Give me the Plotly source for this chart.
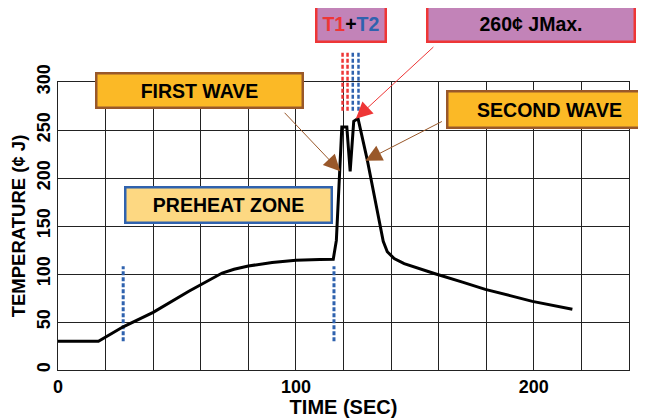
import plotly.graph_objects as go

# --- data ---
time_sec = [0, 17, 27.4, 40, 55, 69, 74, 80, 90, 100, 110, 115.7, 117, 119.3, 121.4, 122.8, 124.3,
            126.1, 129.9, 132.8, 135.6, 136.7, 138.4, 141.3, 145.5, 150, 158.5, 170, 179.6, 190,
            199.4, 216.2]
temp_c = [30, 30, 45, 60, 82, 101, 105, 108.3, 112, 114.3, 115.2, 115.4, 135, 253, 253, 207, 259,
          262, 220, 184, 146.5, 134, 123.2, 116.1, 110.8, 107, 100.3, 91.5, 84, 77.5, 71.5, 63.2]

preheat_marks = [27.4, 116]          # blue dashed markers
preheat_mark_range = [30, 108]
t1_marks = [119.6, 121.7]            # red dashed
t2_marks = [123.9, 126.3]            # blue dashed
t_mark_range = [270, 331]

x_ticks = [0, 100, 200]
y_ticks = [0, 50, 100, 150, 200, 250, 300]

FONT = "Liberation Sans, Arial, sans-serif"
BLUE = "#2F62AE"
RED = "#EE3636"
BROWN = "#99582A"
ORANGE = "#FBB926"
LIGHT = "#FDD882"
PURPLE = "#C283B8"

fig = go.Figure()

for xm in preheat_marks:
    fig.add_trace(go.Scatter(x=[xm, xm], y=preheat_mark_range, mode="lines",
                             line=dict(color=BLUE, width=3, dash="4px,2px"),
                             hoverinfo="skip", showlegend=False))

fig.add_trace(go.Scatter(x=time_sec, y=temp_c, mode="lines",
                         line=dict(color="black", width=3), showlegend=False))

# T1 / T2 markers above the plot
for xs, col in [(t1_marks, RED), (t2_marks, BLUE)]:
    for xm in xs:
        fig.add_shape(type="line", xref="x", yref="paper", x0=xm, x1=xm,
                      y0=t_mark_range[0] / 300, y1=t_mark_range[1] / 300,
                      line=dict(color=col, width=2.5, dash="4px,2px"))

def box(text, x, y, w, h, fill, edge):
    fig.add_annotation(text=text, xref="paper", yref="paper", x=x, y=y,
                       xanchor="center", yanchor="middle", showarrow=False,
                       width=w, height=h, bgcolor=fill, bordercolor=edge,
                       borderwidth=2.5, borderpad=0,
                       font=dict(family=FONT, size=19.5, color="black", weight="bold"))

box("FIRST WAVE", 0.2478, 0.972, 204, 32, ORANGE, BROWN)
box("PREHEAT ZONE", 0.2993, 0.574, 204, 33, LIGHT, BLUE)
box("SECOND WAVE", 0.8615, 0.904, 202, 34, ORANGE, BROWN)
box("<span style='color:#EE3636'>T1</span>+<span style='color:#2F62AE'>T2</span>",
    0.5133, 1.2025, 67, 33, PURPLE, RED)
box("260¢ JMax.", 0.8277, 1.2025, 205, 33, PURPLE, RED)

def arrow(x, y, ax, ay, col):
    fig.add_annotation(x=x, y=y, xref="x", yref="y", ax=ax, ay=ay, text="",
                       showarrow=True, arrowhead=2, arrowsize=3.3, arrowwidth=1,
                       arrowcolor=col, standoff=0)

arrow(118.6, 207, -57, -60, BROWN)
arrow(129.2, 218, 78, -40, BROWN)
arrow(125.2, 261.8, 79, -73, RED)

# page body has an 8px margin, so the figure is 8px smaller on each side
fig.update_layout(
    width=638, height=410,
    margin=dict(l=50, r=17, t=74, b=48, autoexpand=False),
    paper_bgcolor="white", plot_bgcolor="white",
    font=dict(family=FONT, color="black"),
    xaxis=dict(range=[0, 240], tickvals=x_ticks, showgrid=True, gridcolor="#222", gridwidth=1,
               minor=dict(dtick=20, showgrid=True, gridcolor="#222", gridwidth=1),
               zeroline=False, showline=True, mirror=True, linecolor="#222", linewidth=1,
               automargin=False, tickfont=dict(size=18, weight="bold"),
               title=dict(text="TIME (SEC)", font=dict(size=20, weight="bold"), standoff=7)),
    yaxis=dict(range=[0, 300], tickvals=y_ticks, tickangle=-90, showgrid=True,
               gridcolor="#222", gridwidth=1, zeroline=False, showline=True, mirror=True,
               linecolor="#222", linewidth=1, automargin=False, tickfont=dict(size=18, weight="bold"),
               title=dict(text="TEMPERATURE (¢ J)", font=dict(size=18.5, weight="bold"), standoff=5)),
)

fig.write_html("out.html")
